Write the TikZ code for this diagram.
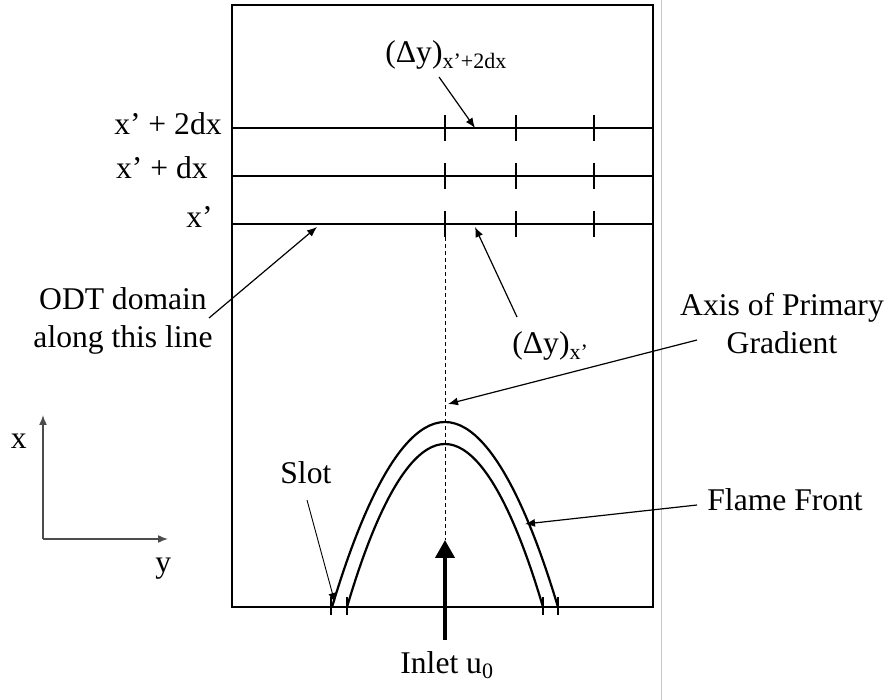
\documentclass[tikz,border=0pt]{standalone}
\usepackage{fontspec}
\setmainfont{Liberation Serif}
\usetikzlibrary{arrows.meta}

\newcommand{\lowsub}[1]{\raisebox{-0.35ex}{\fontsize{11}{11}\selectfont #1}}

\begin{document}
\begin{tikzpicture}[x=0.5pt, y=-0.5pt, >={Latex[length=5pt,width=4pt]},
  font=\fontsize{15.8}{19}\selectfont,
  wall/.style={line width=1pt},
  tick/.style={line width=0.9pt},
  lbl/.style={inner sep=0pt},
  pointer/.style={->,line width=0.6pt},
  front/.style={line width=1.1pt},
  frame axis/.style={->,line width=0.75pt,black!70}]
\useasboundingbox (0,0) rectangle (890,700);
\draw[black!22,line width=0.5pt] (661,0) -- (661,700);

% domain and the three ODT lines
\coordinate (boxSW) at (232,607);
\coordinate (boxNE) at (653,5);
\draw[wall] (boxSW) rectangle (boxNE);
\foreach \y/\name in {128/top,176/mid,224/low} {
  \coordinate (\name W) at (232,\y);
  \coordinate (\name E) at (653,\y);
  \draw[wall] (\name W) -- (\name E);
}
\foreach \y in {128,176,224}
  \foreach \x in {445,516,594}
    \draw[tick] (\x,\y-13) -- (\x,\y+13);

\node[lbl,anchor=base east] (lineTop) at (222,135) {x’ + 2dx};
\node[lbl,anchor=base east] (lineMid) at (208,179) {x’ + dx};
\node[lbl,anchor=base east] (lineLow) at (213,228) {x’};

% flame front over the slot
\draw[front] (332,607) parabola bend (445,422) (558,607);
\draw[front] (347,607) parabola bend (445,444) (543,607);
\foreach \x in {331,347,543,558}
  \draw[tick] (\x,597) -- (\x,615);

\coordinate (axisTop) at (445,237);
\coordinate (axisBot) at (445,540);
\draw[dash pattern=on 2pt off 1.5pt,line width=0.5pt] (axisTop) -- (axisBot);

\node[lbl,anchor=base west] (inlet) at (400,673) {Inlet u\lowsub{0}};
\coordinate (inletFoot) at (445,640);
\draw[-{Triangle[length=9pt,width=9.5pt]},line width=2pt] (inletFoot) -- (axisBot);

% labels and their pointers
\node[lbl,anchor=base west] (dyTop) at (385,63) {(Δy)\lowsub{x’+2dx}};
\coordinate (dyTopFrom) at (439,77);
\coordinate (dyTopTip) at (475,128);
\draw[pointer] (dyTopFrom) -- (dyTopTip);

\node[lbl,anchor=base west] (dyLow) at (512,354) {(Δy)\lowsub{x’}};
\coordinate (dyLowFrom) at (517,317);
\coordinate (dyLowTip) at (475,227);
\draw[pointer] (dyLowFrom) -- (dyLowTip);

\node[lbl,align=center] (odt) at (123,321) {ODT domain\\along this line};
\coordinate (odtFrom) at (209,318);
\coordinate (odtTip) at (317,227);
\draw[pointer] (odtFrom) -- (odtTip);

\node[lbl,align=center] (gradAxis) at (782,324) {Axis of Primary\\Gradient};
\coordinate (gradFrom) at (697,340);
\coordinate (gradTip) at (448,404);
\draw[pointer] (gradFrom) -- (gradTip);

\node[lbl,anchor=base west] (flame) at (707,510) {Flame Front};
\coordinate (flameFrom) at (697,505);
\coordinate (flameTip) at (525,524);
\draw[pointer] (flameFrom) -- (flameTip);

\node[lbl,anchor=base west] (slot) at (280,484) {Slot};
\coordinate (slotFrom) at (307,500);
\coordinate (slotTip) at (335,603);
\draw[pointer,line width=0.45pt] (slotFrom) -- (slotTip);

% coordinate frame
\coordinate (origin) at (43,539);
\coordinate (xEnd) at (43,415);
\coordinate (yEnd) at (168,539);
\draw[frame axis] (origin) -- (xEnd);
\draw[frame axis] (origin) -- (yEnd);
\node[lbl,anchor=base east] (xName) at (27,449) {x};
\node[lbl,anchor=base west] (yName) at (155,573) {y};
\end{tikzpicture}
\end{document}
